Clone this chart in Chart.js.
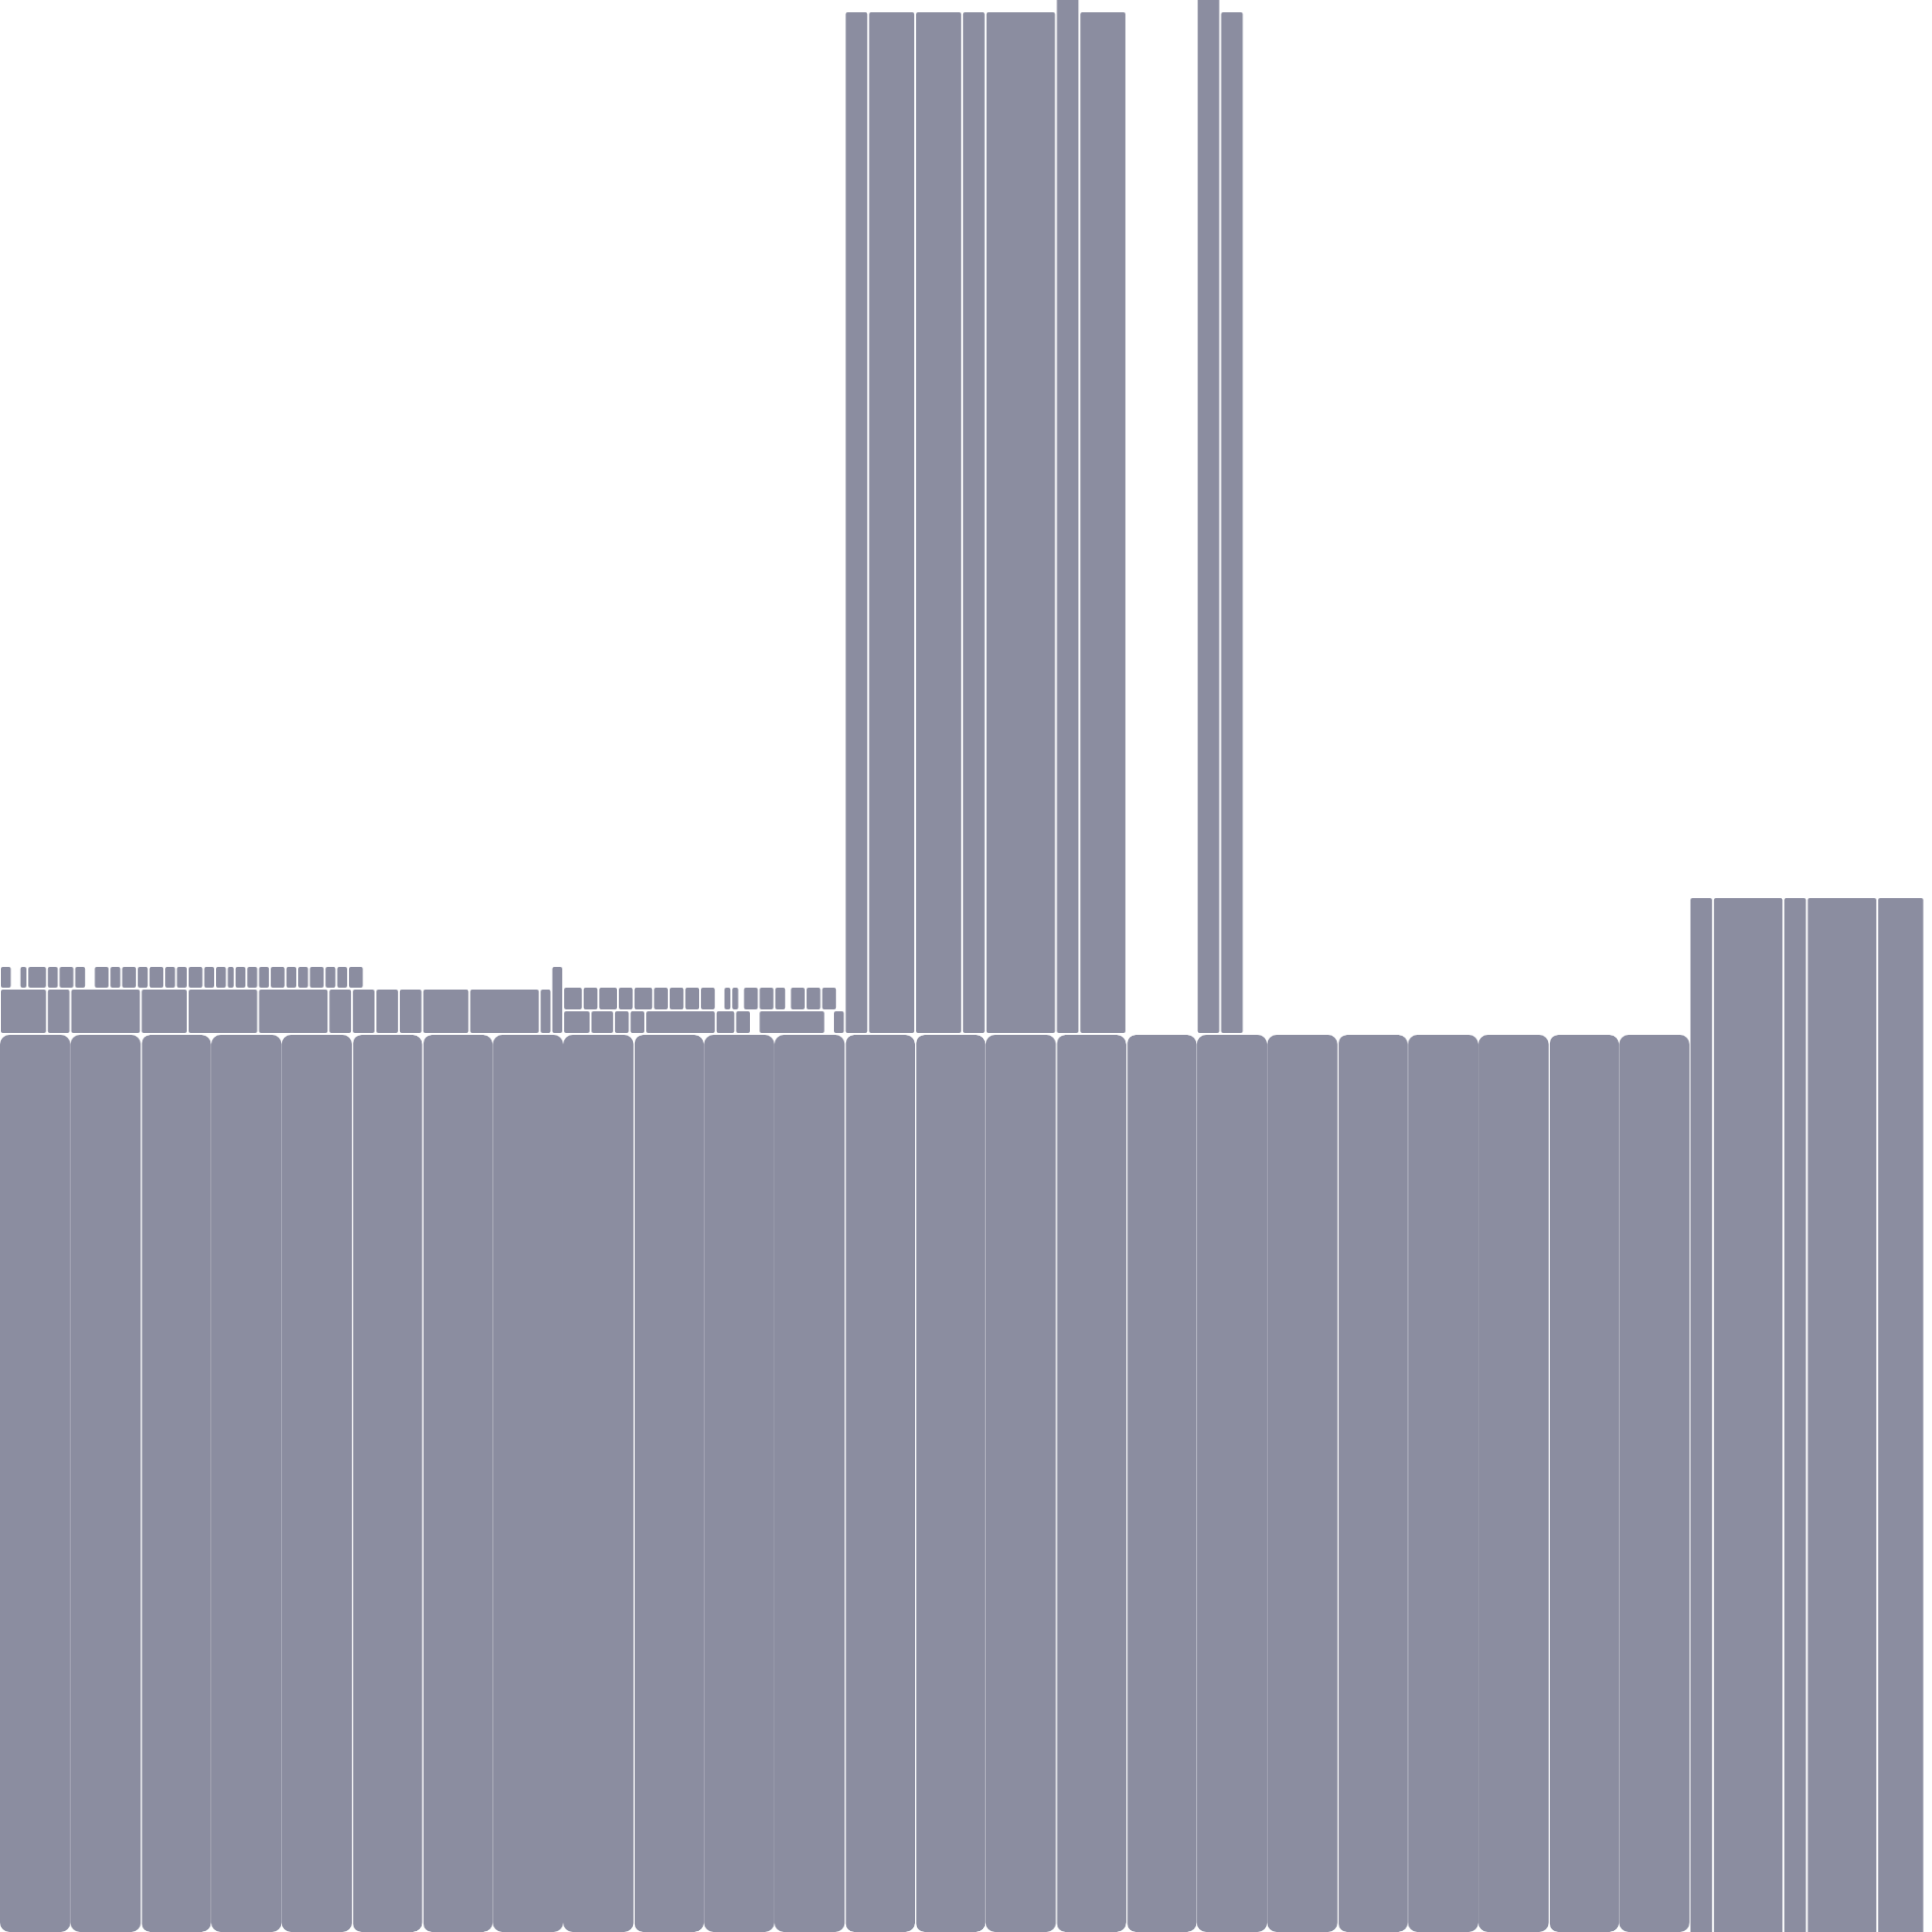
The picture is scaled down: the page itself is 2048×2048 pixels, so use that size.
<!DOCTYPE html>
<html>
<head>
<meta charset="utf-8">
<script src="https://cdn.jsdelivr.net/npm/chart.js@4.4.0/dist/chart.umd.min.js"></script>
<style>
  html, body { margin: 0; padding: 0; background: #fff; }
  #wrap { width: 2048px; height: 2048px; }
</style>
</head>
<body>
<div id="wrap"><canvas id="chart"></canvas></div>
<script>
// x values are in columns (the picture is about 82.3 columns wide),
// heights are counted upward from the bottom edge (0 .. 2048)

// bottom row: 24 blocks of 3 columns
const blockStarts = [0, 3, 6, 9, 12, 15, 18, 21, 24, 27, 30, 33, 36, 39, 42, 45, 48, 51, 54, 57, 60, 63, 66, 69];
const blockSpan = 3;
const blockRange = [0, 951];
const blockBreaks = [6, 15, 18, 27, 36, 39, 45, 48, 57, 66];

// right-hand columns
const rightStarts = [72, 73, 76, 77, 80];
const rightSpans = [1, 3, 1, 3, 2];
const rightRange = [-20, 1097];

// tall columns in the middle
const towerStarts = [36, 37, 39, 41, 42, 45, 46, 51, 52];
const towerSpans = [1, 2, 2, 1, 3, 1, 2, 1, 1];
const towerTops = [2036, 2036, 2036, 2036, 2036, 2060, 2036, 2060, 2036];
const towerBase = 952;

// lower strip, left part
const rowBStarts = [0, 2, 3, 6, 8, 11, 14, 15, 16, 17, 18, 20, 23];
const rowBSpans = [2, 1, 3, 2, 3, 3, 1, 1, 1, 1, 2, 3, 0.5];
const rowBRange = [952, 1000];

// thin post next to it
const postStarts = [23.5];
const postSpans = [0.5];
const postRange = [952, 1024];

// upper strip, left part
const rowAStarts = [0, 0.83, 1.17, 2, 2.5, 3.17, 4, 4.67, 5.17, 5.83, 6.33, 7, 7.5, 8, 8.67, 9.17, 9.67, 10, 10.5, 11, 11.5, 12.17, 12.67, 13.17, 13.83, 14.33, 14.83];
const rowASpans = [0.5, 0.33, 0.83, 0.5, 0.67, 0.5, 0.67, 0.5, 0.67, 0.5, 0.67, 0.5, 0.5, 0.67, 0.5, 0.5, 0.33, 0.5, 0.5, 0.5, 0.67, 0.5, 0.5, 0.67, 0.5, 0.5, 0.67];
const rowARange = [1000, 1024];

// upper strip, middle part
const rowCStarts = [24, 24.83, 25.5, 26.33, 27, 27.83, 28.5, 29.17, 29.83, 30.83, 31.17, 31.67, 32.33, 33, 33.67, 34.33, 35];
const rowCSpans = [0.83, 0.67, 0.83, 0.67, 0.83, 0.67, 0.67, 0.67, 0.67, 0.33, 0.33, 0.67, 0.67, 0.5, 0.67, 0.67, 0.67];
const rowCRange = [977, 1002];

// lower strip, middle part
const rowDStarts = [24, 25.17, 26.17, 26.83, 27.5, 30.5, 31.33, 32.33, 35.5];
const rowDSpans = [1.17, 1, 0.67, 0.67, 3, 0.83, 0.67, 2.83, 0.5];
const rowDRange = [952, 977];

const FILL = '#8b8da0';
const X_MAX = 988; // 12 axis units per column

const marks = [];

function pick(v, i) {
    return Array.isArray(v) ? v[i] : v;
}

function collect(kind, starts, spans, lows, highs) {
    starts.forEach((s, i) => {
        const a = Math.round(s * 6) * 2;
        const b = Math.round((s + pick(spans, i)) * 6) * 2;
        marks.push({
            kind,
            span: b - a,
            x: (a + b) / 2,
            y: [pick(lows, i), pick(highs, i)],
            edge: kind === 'block' && blockBreaks.includes(s)
        });
    });
}

collect('block', blockStarts, blockSpan, blockRange[0], blockRange[1]);
collect('bar', rightStarts, rightSpans, rightRange[0], rightRange[1]);
collect('bar', towerStarts, towerSpans, towerBase, towerTops);
collect('bar', rowBStarts, rowBSpans, rowBRange[0], rowBRange[1]);
collect('bar', postStarts, postSpans, postRange[0], postRange[1]);
collect('bar', rowAStarts, rowASpans, rowARange[0], rowARange[1]);
collect('bar', rowCStarts, rowCSpans, rowCRange[0], rowCRange[1]);
collect('bar', rowDStarts, rowDSpans, rowDRange[0], rowDRange[1]);

// one dataset per (kind, width): bar width = tick spacing * barPercentage
const groups = new Map();
marks.forEach(m => {
    const key = m.kind + ':' + m.span;
    if (!groups.has(key)) groups.set(key, { kind: m.kind, span: m.span, data: [] });
    groups.get(key).data.push({ x: m.x, y: m.y, edge: m.edge });
});

const datasets = [...groups.values()].map(g => ({
    data: g.data,
    grouped: false,
    barPercentage: g.span,
    categoryPercentage: 1,
    backgroundColor: FILL,
    borderColor: '#ffffff',
    borderWidth: g.kind === 'block'
        ? ctx => (ctx.raw && ctx.raw.edge ? { left: 1.2, right: 0, top: 0, bottom: 0 } : 0)
        : 1,
    borderRadius: g.kind === 'block' ? 10 : 3,
    borderSkipped: false,
    inflateAmount: 0
}));

new Chart(document.getElementById('chart'), {
    type: 'bar',
    data: { datasets },
    options: {
        responsive: true,
        maintainAspectRatio: false,
        animation: false,
        layout: { padding: 0 },
        plugins: {
            legend: { display: false },
            tooltip: { enabled: false }
        },
        scales: {
            x: {
                type: 'linear',
                display: false,
                offset: false,
                min: 0,
                max: X_MAX,
                ticks: { stepSize: 1 }
            },
            y: {
                type: 'linear',
                display: false,
                min: 0,
                max: 2048
            }
        }
    }
});
</script>
</body>
</html>
